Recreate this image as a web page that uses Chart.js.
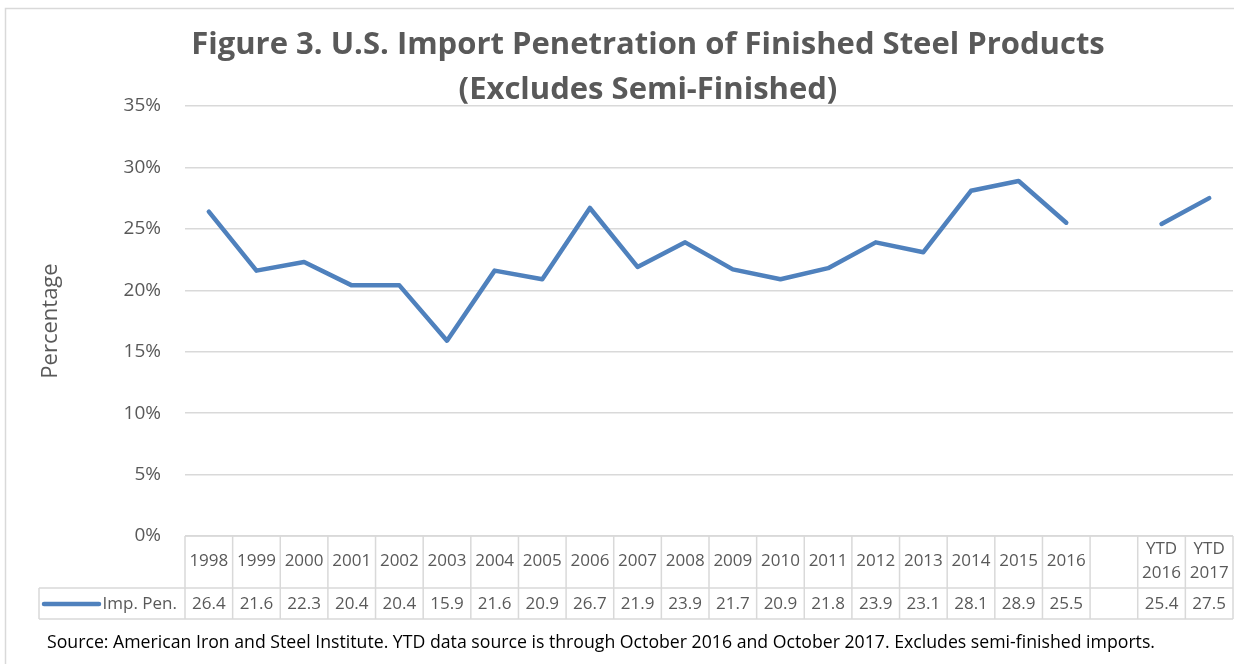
<!DOCTYPE html>
<html>
<head>
<meta charset="utf-8">
<script src="https://cdn.jsdelivr.net/npm/chart.js@4.4.0/dist/chart.umd.min.js"></script>
<style>
  html, body { margin: 0; padding: 0; background: #fff; }
  #wrap { width: 1234px; height: 664px; }
</style>
</head>
<body>
<div id="wrap"><canvas id="chart-line" width="1234" height="664"></canvas></div>
<script>
// categories (header row of the data table)
const years = ["1998", "1999", "2000", "2001", "2002", "2003", "2004", "2005", "2006", "2007",
  "2008", "2009", "2010", "2011", "2012", "2013", "2014", "2015", "2016", "", ["YTD", "2016"], ["YTD", "2017"]];
// import penetration, percent
const impPen = [26.4, 21.6, 22.3, 20.4, 20.4, 15.9, 21.6, 20.9, 26.7, 21.9,
  23.9, 21.7, 20.9, 21.8, 23.9, 23.1, 28.1, 28.9, 25.5, null, 25.4, 27.5];
const yTicks = [0, 5, 10, 15, 20, 25, 30, 35];

const titleLines = ["Figure 3. U.S. Import Penetration of Finished Steel Products", "(Excludes Semi-Finished)"];
const sourceNote = "Source: American Iron and Steel Institute. YTD data source is through October 2016 and October 2017. Excludes semi-finished imports.";
const seriesName = "Imp. Pen.";

const lineBlue = "#4f81bd";
const gridGray = "#d9d9d9";
const textGray = "#595959";
const font = "'Open Sans', sans-serif";

// draws the frame, title, data table and source line
const extras = {
  id: "extras",
  beforeDraw(chart) {
    const c = chart.ctx;
    c.save();
    c.strokeStyle = gridGray;
    c.lineWidth = 1.5;
    c.strokeRect(5.5, 8.5, 1240, 700);
    c.restore();
  },
  afterDraw(chart) {
    const c = chart.ctx;
    const x = chart.scales.x;
    const area = chart.chartArea;
    const half = (x.getPixelForValue(1) - x.getPixelForValue(0)) / 2;
    const top = area.bottom, mid = 588, bot = 619;
    c.save();
    // title
    c.fillStyle = textGray;
    c.textAlign = "center";
    c.textBaseline = "middle";
    c.font = "bold 31px " + font;
    c.fillText(titleLines[0], 648, 45);
    c.fillText(titleLines[1], 648, 90);

    // table grid
    c.strokeStyle = gridGray;
    c.lineWidth = 1.5;
    const left = x.getPixelForValue(0) - half;
    const right = x.getPixelForValue(years.length - 1) + half;
    c.beginPath();
    c.moveTo(left, top); c.lineTo(right, top);
    c.moveTo(39, mid); c.lineTo(right, mid);
    c.moveTo(39, bot); c.lineTo(right, bot);
    c.moveTo(39, mid); c.lineTo(39, bot);
    for (let i = 0; i < years.length; i++) {
      const px = x.getPixelForValue(i) - half;
      c.moveTo(px, top); c.lineTo(px, bot);
    }
    c.moveTo(right, top); c.lineTo(right, bot);
    c.stroke();

    // table text
    c.font = "17px " + font;
    c.fillStyle = textGray;
    years.forEach((lab, i) => {
      const px = x.getPixelForValue(i);
      if (Array.isArray(lab)) {
        c.fillText(lab[0], px, 549);
        c.fillText(lab[1], px, 573);
      } else {
        c.fillText(lab, px, 561);
      }
      if (impPen[i] !== null) c.fillText(impPen[i].toFixed(1), px, 604);
    });

    // legend key
    c.strokeStyle = lineBlue;
    c.lineWidth = 4.5;
    c.lineCap = "round";
    c.beginPath();
    c.moveTo(44, 604); c.lineTo(99, 604);
    c.stroke();
    c.textAlign = "right";
    c.fillText(seriesName, 177, 604);

    // source
    c.textAlign = "center";
    c.fillStyle = "#000";
    c.font = "17.7px " + font;
    c.fillText(sourceNote, 601, 643);
    c.restore();
  }
};

const ctx1 = document.getElementById("chart-line").getContext("2d");
new Chart(ctx1, {
  type: "line",
  data: {
    labels: years,
    datasets: [
      {
        label: seriesName,
        data: impPen,
        borderColor: lineBlue,
        backgroundColor: lineBlue,
        borderWidth: 4.5,
        borderCapStyle: "round",
        borderJoinStyle: "round",
        pointRadius: 0,
        tension: 0,
        spanGaps: false,
        fill: false,
      },
    ],
  },
  options: {
    responsive: false,
    animation: false,
    maintainAspectRatio: false,
    layout: {
      padding: { top: 106, right: 1, bottom: 128, left: 38 },
    },
    plugins: {
      legend: { display: false },
      title: { display: false },
      tooltip: { enabled: false },
    },
    scales: {
      x: {
        display: false,
        offset: true,
      },
      y: {
        min: 0,
        max: 35,
        afterFit(scale) { scale.width = 147; },
        afterBuildTicks(scale) { scale.ticks = yTicks.map(v => ({ value: v })); },
        border: { display: false },
        grid: {
          color: gridGray,
          lineWidth: 1.5,
          drawTicks: false,
        },
        ticks: {
          padding: 24,
          color: textGray,
          font: { size: 19, family: font },
          callback: (v) => v + "%",
        },
        title: {
          display: true,
          text: "Percentage",
          color: textGray,
          font: { size: 22, family: font },
          padding: 0,
        },
      },
    },
  },
  plugins: [extras],
});
</script>
</body>
</html>
